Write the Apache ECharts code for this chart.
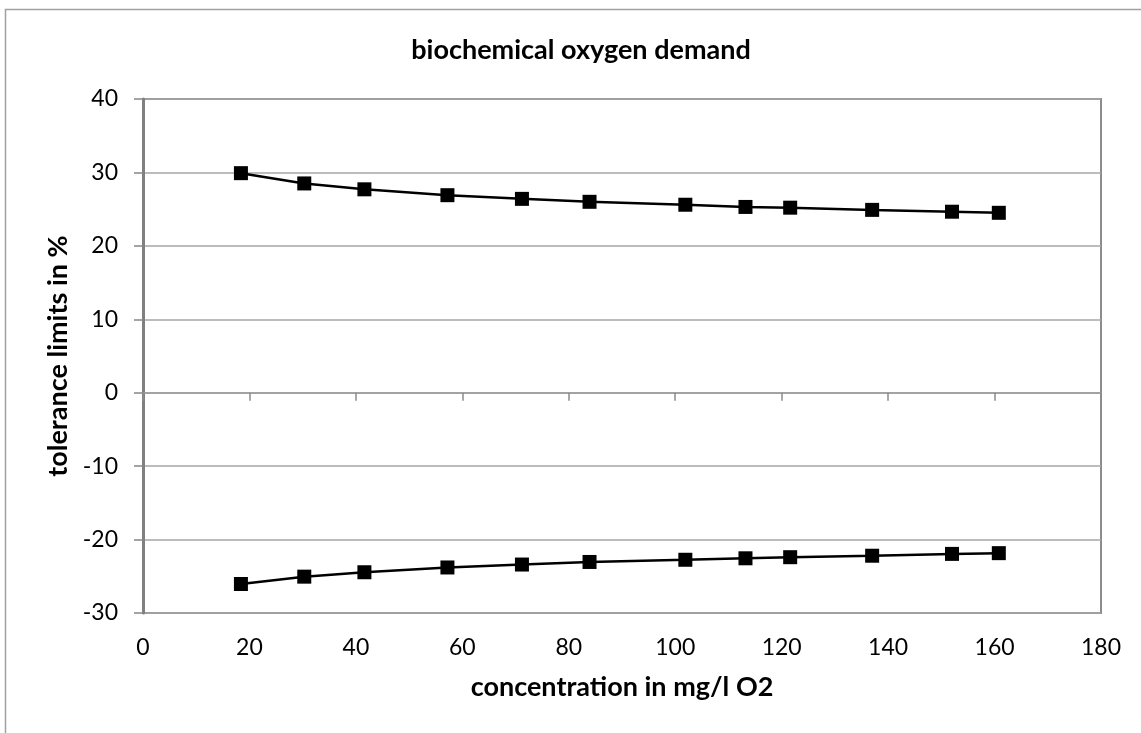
<!DOCTYPE html>
<html>
<head>
<meta charset="utf-8">
<script src="https://cdn.jsdelivr.net/npm/echarts@6/dist/echarts.min.js"></script>
<style>
  html, body { margin: 0; padding: 0; background: #fff; }
</style>
</head>
<body>
<div id="chart" style="width:1141px; height:733px; background-color: white;"></div>
<script>
// concentration values (mg/l O2), same for both limits
const conc = [18.4, 30.3, 41.6, 57.2, 71.2, 83.9, 101.9, 113.2, 121.6, 137.0, 152.0, 160.8]
// upper tolerance limit in %
const upper = [29.9, 28.5, 27.7, 26.9, 26.4, 26.0, 25.6, 25.3, 25.2, 24.9, 24.65, 24.5]
// lower tolerance limit in %
const lower = [-26.05, -25.05, -24.45, -23.8, -23.4, -23.05, -22.75, -22.55, -22.4, -22.2, -21.95, -21.85]

const xTicks = { min: 0, max: 180, interval: 20 }
const yTicks = { min: -30, max: 40, interval: 10 }

const font = 'Lato, "Open Sans", sans-serif'

function pairs(xs, ys) {
  let out = []
  for (let i = 0; i < xs.length; i++) {
    out.push([xs[i], ys[i]])
  }
  return out
}

const my_echart = echarts.init(document.getElementById('chart'), null, {renderer: 'canvas'})

my_echart.setOption({
  animation: false,
  textStyle: { fontFamily: font },
  title: {
    text: 'biochemical oxygen demand',
    left: 576,
    top: 32,
    textAlign: 'center',
    textStyle: { fontFamily: font, fontSize: 27, fontWeight: 'bold', color: '#000' }
  },
  graphic: [
    {
      // outer chart frame
      type: 'rect',
      shape: { x: 5.5, y: 9.5, width: 1200, height: 800 },
      style: { fill: 'none', stroke: '#a0a0a0', lineWidth: 1.5 },
      silent: true
    }
  ],
  grid: {
    left: 143,
    top: 99,
    width: 958,
    height: 514,
    show: true,
    borderColor: '#8c8c8c',
    borderWidth: 2,
    containLabel: false
  },
  xAxis: [
    {
      type: 'value',
      position: 'bottom',
      min: xTicks.min,
      max: xTicks.max,
      interval: xTicks.interval,
      axisLine: { show: false, onZero: false },
      axisTick: { show: false },
      splitLine: { show: false },
      axisLabel: { margin: 23, fontSize: 23, color: '#000', fontFamily: font },
      name: 'concentration in mg/l O2',
      nameLocation: 'middle',
      nameGap: 61,
      nameTextStyle: { fontSize: 27, fontWeight: 'bold', color: '#000', fontFamily: font }
    },
    {
      // tick marks sitting on the zero line
      type: 'value',
      position: 'top',
      min: xTicks.min,
      max: xTicks.max,
      interval: xTicks.interval,
      axisLine: { show: true, onZero: true, lineStyle: { color: '#9a9a9a', width: 1.5 } },
      axisTick: { show: true, inside: true, length: 8, lineStyle: { color: '#8c8c8c', width: 1.5 } },
      axisLabel: { show: false },
      splitLine: { show: false }
    }
  ],
  yAxis: {
    type: 'value',
    min: yTicks.min,
    max: yTicks.max,
    interval: yTicks.interval,
    axisLine: { show: true, lineStyle: { color: '#808080', width: 3 } },
    axisTick: { show: true, length: 9, lineStyle: { color: '#868686', width: 1.5 } },
    splitLine: { show: true, lineStyle: { color: '#a6a6a6', width: 1.5 } },
    axisLabel: { margin: 25, fontSize: 23, color: '#000', fontFamily: font },
    name: 'tolerance limits in %',
    nameLocation: 'middle',
    nameGap: 70,
    nameTextStyle: { fontSize: 27, fontWeight: 'bold', color: '#000', fontFamily: font }
  },
  series: [
    {
      name: 'upper',
      type: 'line',
      xAxisIndex: 0,
      data: pairs(conc, upper),
      symbol: 'rect',
      symbolSize: 14,
      lineStyle: { color: '#000', width: 2.5 },
      itemStyle: { color: '#000' }
    },
    {
      name: 'lower',
      type: 'line',
      xAxisIndex: 0,
      data: pairs(conc, lower),
      symbol: 'rect',
      symbolSize: 14,
      lineStyle: { color: '#000', width: 2.5 },
      itemStyle: { color: '#000' }
    }
  ]
});
</script>
</body>
</html>
